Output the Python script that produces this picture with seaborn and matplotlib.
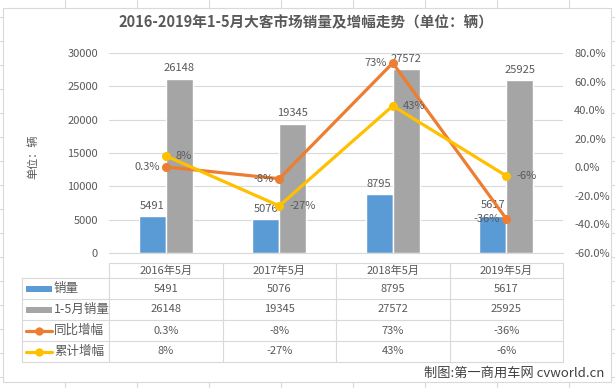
import numpy as np
import pandas as pd
import matplotlib
matplotlib.use("Agg")
import matplotlib.pyplot as plt
import matplotlib.transforms as mtransforms
from matplotlib.lines import Line2D
from matplotlib.patches import Rectangle
from matplotlib.ticker import FuncFormatter, MultipleLocator
import seaborn as sns

# ---------------- data ----------------
periods = ["2016年5月", "2017年5月", "2018年5月", "2019年5月"]
sales_may = [5491, 5076, 8795, 5617]
sales_ytd = [26148, 19345, 27572, 25925]
growth_yoy = [0.3, -8, 73, -36]     # 同比增幅 (%)
growth_cum = [8, -27, 43, -6]       # 累计增幅 (%)
series_bar = ["销量", "1-5月销量"]
series_line = ["同比增幅", "累计增幅"]
title = "2016-2019年1-5月大客市场销量及增幅走势（单位：辆）"
ylabel = "单位：辆"
credit = "制图:第一商用车网 cvworld.cn"

# ---------------- style ----------------
sns.set_style("white")
plt.rcParams["font.family"] = ["Noto Sans CJK SC", "DejaVu Sans"]
TXT = "#595959"
GRID = "#D9D9D9"
C_BLUE, C_GRAY, C_ORANGE, C_YELLOW = "#5B9BD5", "#A5A5A5", "#ED7D31", "#FFC000"
FS = 8

W, H = 615, 388
fig = plt.figure(figsize=(W / 100, H / 100), dpi=100)
fig.patch.set_facecolor("white")

def fx(px):
    return px / W

def fy(py):
    return 1 - py / H

# Excel sheet grid in background
for gx in range(65, W, 72):
    fig.add_artist(Line2D([fx(gx), fx(gx)], [0, 1], transform=fig.transFigure,
                          color="#DADADA", lw=0.8, zorder=0))
for gy in range(17, H, 24):
    fig.add_artist(Line2D([0, 1], [fy(gy), fy(gy)], transform=fig.transFigure,
                          color="#DADADA", lw=0.8, zorder=0))
# chart area
fig.add_artist(Rectangle((fx(3), fy(382)), fx(611) - fx(3), fy(8) - fy(382),
                         transform=fig.transFigure, facecolor="white",
                         edgecolor="#D9D9D9", lw=0.8, zorder=0.5))

# ---------------- axes ----------------
ax = fig.add_axes([fx(109), fy(253), fx(563) - fx(109), fy(53) - fy(253)])
ax.set_facecolor("none")
ax.set_zorder(1)

df = pd.DataFrame({
    "period": periods * 2,
    "value": sales_may + sales_ytd,
    "series": [series_bar[0]] * 4 + [series_bar[1]] * 4,
})
sns.barplot(data=df, x="period", y="value", hue="series", hue_order=series_bar,
            palette=[C_BLUE, C_GRAY], width=0.476, saturation=1, ax=ax,
            legend=False, zorder=2)
for cont in ax.containers:
    ax.bar_label(cont, fmt="%d", padding=4, fontsize=FS, color=TXT)

ax.set_xlim(-0.5, 3.5)
ax.set_ylim(0, 30000)
ax.yaxis.set_major_locator(MultipleLocator(5000))
ax.grid(axis="y", color=GRID, lw=0.8, zorder=0)
ax.set_axisbelow(True)
for s in ["left", "right", "top"]:
    ax.spines[s].set_visible(False)
ax.spines["bottom"].set_color(GRID)
ax.spines["bottom"].set_linewidth(0.8)
ax.tick_params(axis="y", length=0, pad=8, labelsize=FS, labelcolor=TXT)
ax.tick_params(axis="x", length=0, labelbottom=False)
ax.set_xlabel("")
ax.set_ylabel("")

ax2 = ax.twinx()
ax2.set_zorder(2)
xs = np.arange(len(periods))
sns.lineplot(x=xs, y=np.array(growth_yoy) / 100, color=C_ORANGE, lw=2.3,
             marker="o", markersize=6.5, markeredgewidth=0, ax=ax2)
sns.lineplot(x=xs, y=np.array(growth_cum) / 100, color=C_YELLOW, lw=2.3,
             marker="o", markersize=6.5, markeredgewidth=0, ax=ax2)
ax2.set_ylim(-0.6, 0.8)
ax2.yaxis.set_major_locator(MultipleLocator(0.2))
ax2.yaxis.set_major_formatter(FuncFormatter(lambda v, p: f"{v * 100:.1f}%"))
ax2.tick_params(axis="y", length=0, pad=8, labelsize=FS, labelcolor=TXT)
for s in ax2.spines.values():
    s.set_visible(False)
ax2.set_xlim(-0.5, 3.5)
ax2.set_ylabel("")

for i, v in enumerate(growth_yoy):
    ax2.annotate(f"{v:g}%", (i, v / 100), xytext=(-6, 0), textcoords="offset pixels",
                 ha="right", va="center", fontsize=FS, color=TXT)
for i, v in enumerate(growth_cum):
    ax2.annotate(f"{v:g}%", (i, v / 100), xytext=(10, 0), textcoords="offset pixels",
                 ha="left", va="center", fontsize=FS, color=TXT)

fig.text(fx(306), fy(22), title, ha="center", va="center", fontsize=10.5,
         fontweight="bold", color=TXT)
fig.text(fx(33), fy(157), ylabel, ha="center", va="center", rotation=90,
         fontsize=FS, color=TXT)

# ---------------- data table ----------------
bt = mtransforms.blended_transform_factory(ax.transData, fig.transFigure)
ft = fig.transFigure
row_edges = [263, 278, 299, 320, 341, 362]
x0, x1 = -0.5, 3.5
fig.add_artist(Line2D([x0, x1], [fy(263), fy(263)], transform=bt, color=GRID, lw=0.8))
for ry in row_edges[1:]:
    fig.add_artist(Line2D([fx(22), fx(109)], [fy(ry), fy(ry)], transform=ft, color=GRID, lw=0.8))
    fig.add_artist(Line2D([x0, x1], [fy(ry), fy(ry)], transform=bt, color=GRID, lw=0.8))
fig.add_artist(Line2D([fx(22), fx(22)], [fy(278), fy(362)], transform=ft, color=GRID, lw=0.8))
for k in range(len(periods) + 1):
    xv = k - 0.5
    fig.add_artist(Line2D([xv, xv], [fy(263), fy(362)], transform=bt, color=GRID, lw=0.8))

centers = [(row_edges[j] + row_edges[j + 1]) / 2 for j in range(5)]
for i, p in enumerate(periods):
    fig.text(i, fy(centers[0]), p, transform=bt, ha="center", va="center", fontsize=FS, color=TXT)
rows = [
    [f"{v}" for v in sales_may],
    [f"{v}" for v in sales_ytd],
    [f"{v:g}%" for v in growth_yoy],
    [f"{v:g}%" for v in growth_cum],
]
for r, vals in enumerate(rows):
    for i, t in enumerate(vals):
        fig.text(i, fy(centers[r + 1]), t, transform=bt, ha="center", va="center",
                 fontsize=FS, color=TXT)

labels = series_bar + series_line
colors = [C_BLUE, C_GRAY, C_ORANGE, C_YELLOW]
for r, (lab, c) in enumerate(zip(labels, colors)):
    cy = centers[r + 1]
    if r < 2:
        fig.add_artist(Rectangle((fx(26), fy(cy + 3)), fx(52) - fx(26), fy(cy - 3) - fy(cy + 3),
                                 transform=ft, facecolor=c, edgecolor="none"))
    else:
        fig.add_artist(Line2D([fx(26), fx(52)], [fy(cy), fy(cy)], transform=ft, color=c, lw=2.3))
        fig.add_artist(Line2D([fx(39)], [fy(cy)], transform=ft, color=c, marker="o",
                              markersize=6, markeredgewidth=0))
    fig.text(fx(54), fy(cy), lab, ha="left", va="center", fontsize=FS + 1, color=TXT)

fig.text(fx(604), fy(373), credit, ha="right", va="center", fontsize=9.5, color="#404040")

fig.savefig("out.png", dpi=100, facecolor="white")
